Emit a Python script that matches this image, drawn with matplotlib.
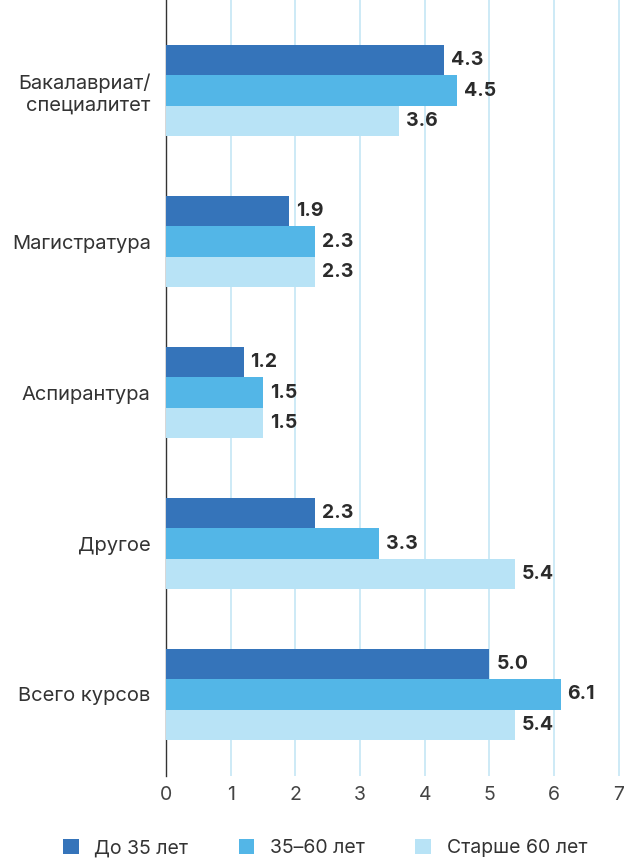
import matplotlib
matplotlib.use("Agg")
import matplotlib.pyplot as plt
import numpy as np
from matplotlib.patches import Patch

plt.rcParams['font.family'] = ['Inter', 'DejaVu Sans']

categories = ["Бакалавриат/\nспециалитет", "Магистратура", "Аспирантура", "Другое", "Всего курсов"]
series_names = ["До 35 лет", "35–60 лет", "Старше 60 лет"]
under35 = [4.3, 1.9, 1.2, 2.3, 5.0]
mid35_60 = [4.5, 2.3, 1.5, 3.3, 6.1]
over60 = [3.6, 2.3, 1.5, 5.4, 5.4]
xticks = [0, 1, 2, 3, 4, 5, 6, 7]

colors = ["#3574BA", "#53B6E7", "#B8E3F6"]
series = [under35, mid35_60, over60]

fig = plt.figure(figsize=(6.24, 8.58), dpi=100)
ax = fig.add_axes([166/624, 1-776/858, (620-166)/624, 776/858])

y = np.arange(len(categories))
h = 0.2
offsets = [-h, 0, h]
for vals, c, off in zip(series, colors, offsets):
    bars = ax.barh(y + off, vals, height=h, color=c, zorder=3)
    for b, v in zip(bars, vals):
        ax.annotate(f"{v:.1f}", (b.get_width(), b.get_y() + b.get_height()/2),
                    xytext=(5, 0), textcoords="offset points", va="center", ha="left",
                    fontsize=14, fontweight="bold", color="#2b2b2b")

ax.set_xlim(0, 7.02)
ax.set_ylim(4.54, -0.6)
ax.set_xticks(xticks)
ax.set_yticks(y)
ax.set_yticklabels(categories, fontsize=14.5, color="#333333", linespacing=1.2)
ax.tick_params(axis='y', length=0, pad=11)
ax.tick_params(axis='x', length=0, pad=7, labelsize=14, labelcolor="#444444")
ax.xaxis.grid(True, color="#C5E6F5", linewidth=1.2, zorder=0)
ax.set_axisbelow(True)
for s in ["top", "right", "bottom"]:
    ax.spines[s].set_visible(False)
ax.spines["left"].set_color("#333333")
ax.spines["left"].set_linewidth(1.0)

handles = [Patch(facecolor=c, label=n) for c, n in zip(colors, series_names)]
fig.legend(handles=handles, loc="center", bbox_to_anchor=(0.521, 1-848/858), ncol=3,
           frameon=False, fontsize=14, handlelength=0.8, handleheight=0.8,
           columnspacing=2.6, handletextpad=0.8, labelcolor="#333333",
           borderaxespad=0, borderpad=0)

fig.savefig("out.png", dpi=100)
